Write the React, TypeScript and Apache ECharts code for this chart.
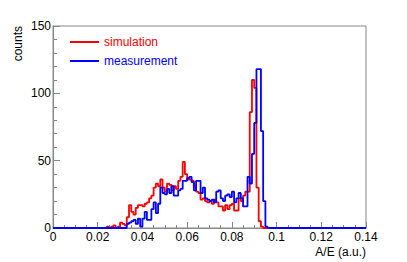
import React, { useEffect, useRef } from "react";
import * as echarts from "echarts";

// x-axis tick labels (A/E, a.u.)
const xTicks = [0, 0.02, 0.04, 0.06, 0.08, 0.1, 0.12, 0.14];
const yTicks = [0, 50, 100, 150];

// histogram binning: 140 bins of width 0.001 from 0 to 0.14
const binWidth = 0.001;
const nBins = 140;

// simulation counts, starting at bin 24 (A/E = 0.024)
const simulationStart = 24;
const simulation = [
  1, 0, 1, 2, 0, 1, 4, 3, 2, 8,
  17, 12, 10, 15, 17, 17, 16, 18, 19, 22,
  24, 30, 33, 31, 36, 30, 27, 33, 32, 28,
  31, 29, 35, 38, 49, 40, 36, 36, 35, 31,
  27, 26, 21, 22, 20, 19, 20, 18, 21, 19,
  16, 16, 13, 17, 14, 17, 18, 13, 13, 22,
  20, 24, 27, 27, 86, 110, 104, 30, 5, 1,
];

// measurement counts, starting at bin 33 (A/E = 0.033)
const measurementStart = 33;
const measurement = [
  3, 4, 5, 6, 3, 7, 1, 7, 12, 6,
  6, 14, 19, 11, 18, 30, 26, 25, 29, 26,
  31, 24, 24, 28, 29, 35, 35, 37, 38, 34,
  28, 35, 35, 26, 30, 22, 21, 20, 21, 19,
  27, 28, 22, 20, 24, 25, 23, 27, 19, 22,
  26, 22, 16, 16, 38, 33, 55, 78, 118, 118,
  72, 20, 1,
];

const FONT = "'Liberation Sans', Arial, Helvetica, sans-serif";

function toSteps(start: number, values: number[]): number[][] {
  const out: number[][] = [];
  for (let i = 0; i < nBins; i++) {
    const k = i - start;
    const v = k >= 0 && k < values.length ? values[k] : 0;
    out.push([+(i * binWidth).toFixed(4), v]);
  }
  out.push([+(nBins * binWidth).toFixed(4), 0]);
  return out;
}

export default function App() {
  const ref = useRef<HTMLDivElement>(null);
  useEffect(() => {
    if (!ref.current) return;
    const chart = echarts.init(ref.current, undefined, { renderer: "svg" });
    const axisColor = "#888";
    chart.setOption({
      animation: false,
      backgroundColor: "#fff",
      grid: {
        left: 53,
        right: 41,
        top: 26,
        bottom: 34,
        show: true,
        borderColor: axisColor,
        borderWidth: 1,
        backgroundColor: "transparent",
      },
      legend: {
        orient: "vertical",
        left: 70,
        top: 36,
        padding: 0,
        itemWidth: 29,
        itemHeight: 2,
        itemGap: 7,
        icon: "rect",
        textStyle: { fontSize: 12, fontFamily: FONT },
        data: [
          { name: "simulation", textStyle: { color: "#ff0000" } },
          { name: "measurement", textStyle: { color: "#0000ff" } },
        ],
      },
      xAxis: {
        type: "value",
        min: xTicks[0],
        max: xTicks[xTicks.length - 1],
        interval: 0.02,
        axisLine: { show: true, onZero: false, lineStyle: { color: axisColor, width: 1 } },
        axisTick: { show: true, inside: true, length: 6, lineStyle: { color: axisColor } },
        minorTick: { show: true, splitNumber: 4, length: 3, lineStyle: { color: axisColor } },
        splitLine: { show: false },
        axisLabel: {
          margin: 3,
          color: "#000",
          fontSize: 12,
          lineHeight: 12,
          fontFamily: FONT,
          formatter: (v: number) => String(+v.toFixed(2)),
        },
      },
      yAxis: {
        type: "value",
        min: yTicks[0],
        max: yTicks[yTicks.length - 1],
        interval: 50,
        axisLine: { show: true, lineStyle: { color: axisColor, width: 1 } },
        axisTick: { show: true, inside: true, length: 7, lineStyle: { color: axisColor } },
        minorTick: { show: true, splitNumber: 5, length: 4, lineStyle: { color: axisColor } },
        splitLine: { show: false },
        axisLabel: {
          margin: 2,
          color: "#000",
          fontSize: 12,
          fontFamily: FONT,
        },
      },
      graphic: [
        {
          type: "text",
          x: 18,
          y: 26,
          rotation: Math.PI / 2,
          style: {
            text: "counts",
            fontSize: 12,
            fontFamily: FONT,
            fill: "#000",
            textAlign: "right",
            textVerticalAlign: "middle",
          },
        },
        {
          type: "text",
          x: 366,
          y: 252,
          style: {
            text: "A/E (a.u.)",
            fontSize: 12,
            lineHeight: 12,
            fontFamily: FONT,
            fill: "#000",
            textAlign: "right",
            textVerticalAlign: "middle",
          },
        },
      ],
      series: [
        {
          name: "simulation",
          type: "line",
          step: "end",
          showSymbol: false,
          symbol: "none",
          color: "#ff0000",
          lineStyle: { color: "#ff0000", width: 1.8 },
          data: toSteps(simulationStart, simulation),
        },
        {
          name: "measurement",
          type: "line",
          step: "end",
          showSymbol: false,
          symbol: "none",
          color: "#0000ff",
          lineStyle: { color: "#0000ff", width: 1.8 },
          data: toSteps(measurementStart, measurement),
        },
      ],
    });
    return () => chart.dispose();
  }, []);
  return (
    <div
      ref={ref}
      style={{ position: "fixed", left: 0, top: 0, width: 407, height: 262 }}
    />
  );
}
